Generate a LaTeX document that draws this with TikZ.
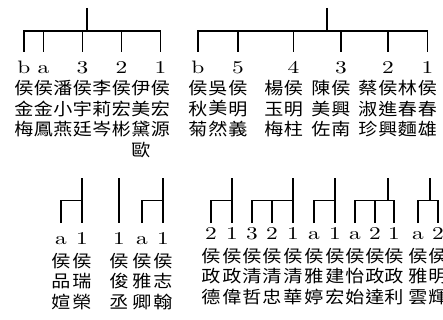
\documentclass[tikz,border=0pt]{standalone}
\usepackage{fontspec}
\newfontfamily\cjk[FakeStretch=1.12]{Noto Sans CJK TC}
\newfontfamily\latn[FakeStretch=1.3]{lmroman10-regular.otf}
\usetikzlibrary{calc}

\begin{document}
\begin{tikzpicture}[x=1pt, y=-1pt,
	kin/.style={line width=1.8pt},
	nm/.style={anchor=north, align=center, inner sep=0pt, font=\cjk\fontsize{17}{20.5}\selectfont},
	lbl/.style={anchor=north, inner sep=0pt, outer ysep=#1, text height=12pt, text depth=0pt, font=\latn\fontsize{18}{18}\selectfont},
	lbl/.default=10pt]
		
		\useasboundingbox (0,0) rectangle (443,320);
		
		% Top left family
		\coordinate (s1) at (87,8);
		\coordinate (j1) at (87,31);
		\node[lbl] (l1b) at (24,52) {b};
		\node[lbl] (l1a) at (43.5,52) {a};
		\node[lbl] (l13) at (82.5,52) {3};
		\node[lbl] (l12) at (121.5,52) {2};
		\node[lbl] (l11) at (160.5,52) {1};
		\node[nm] (n11) at (24,80.5) {侯\\金\\梅};
		\node[nm] (n12) at (43.5,80.5) {侯\\金\\鳳};
		\node[nm] (n13) at (63,80.5) {潘\\小\\燕};
		\node[nm] (n14) at (82.5,80.5) {侯\\宇\\廷};
		\node[nm] (n15) at (102,80.5) {李\\莉\\岑};
		\node[nm] (n16) at (121.5,80.5) {侯\\宏\\彬};
		\node[nm] (n17) at (141,80.5) {伊\\美\\黛\\歐};
		\node[nm] (n18) at (160.5,80.5) {侯\\宏\\源};
		\draw[kin] (s1) -- (j1);
		\draw[kin] (l1b.north) |- (l11.north |- j1) -- (l11.north);
		\draw[kin] (l1a.north) -- (l1a.north |- j1);
		\draw[kin] (l13.north) -- (l13.north |- j1);
		\draw[kin] (l12.north) -- (l12.north |- j1);
		
		% Top right family
		\coordinate (s2) at (327,8);
		\coordinate (j2) at (327,31);
		\node[lbl] (l2b) at (198,52) {b};
		\node[lbl] (l25) at (238,52) {5};
		\node[lbl] (l24) at (293.5,52) {4};
		\node[lbl] (l23) at (341,52) {3};
		\node[lbl] (l22) at (388,52) {2};
		\node[lbl] (l21) at (427.5,52) {1};
		\node[nm] (n21) at (198,80.5) {侯\\秋\\菊};
		\node[nm] (n22) at (218,80.5) {吳\\美\\然};
		\node[nm] (n23) at (238,80.5) {侯\\明\\義};
		\node[nm] (n24) at (274,80.5) {楊\\玉\\梅};
		\node[nm] (n25) at (293.5,80.5) {侯\\明\\柱};
		\node[nm] (n26) at (321,80.5) {陳\\美\\佐};
		\node[nm] (n27) at (341,80.5) {侯\\興\\南};
		\node[nm] (n28) at (368,80.5) {蔡\\淑\\珍};
		\node[nm] (n29) at (388,80.5) {侯\\進\\興};
		\node[nm] (n2a) at (407.5,80.5) {林\\春\\麵};
		\node[nm] (n2b) at (427.5,80.5) {侯\\春\\雄};
		\draw[kin] (s2) -- (j2);
		\draw[kin] (l2b.north) |- (l21.north |- j2) -- (l21.north);
		\draw[kin] (l25.north) -- (l25.north |- j2);
		\draw[kin] (l24.north) -- (l24.north |- j2);
		\draw[kin] (l23.north) -- (l23.north |- j2);
		\draw[kin] (l22.north) -- (l22.north |- j2);
		
		% Bottom left
		\coordinate (s3) at (82,178);
		\coordinate (j3) at (82,200.5);
		\node[lbl=9pt] (l3a) at (61,223) {a};
		\node[lbl=9pt] (l31) at (82,223) {1};
		\node[nm] (n31) at (61,253) {侯\\品\\媗};
		\node[nm] (n32) at (82,253) {侯\\瑞\\榮};
		\draw[kin] (s3) -- (j3);
		\draw[kin] (l3a.north) |- (l31.north |- j3) -- (l31.north);
		
		\coordinate (s4) at (119,178);
		\node[lbl=9pt] (l41) at (119,223) {1};
		\node[nm] (n41) at (119,253) {侯\\俊\\丞};
		\draw[kin] (s4) -- (l41.north);
		
		\coordinate (s5) at (163,178);
		\coordinate (j5) at (163,200.5);
		\node[lbl=9pt] (l5a) at (142,223) {a};
		\node[lbl=9pt] (l51) at (163,223) {1};
		\node[nm] (n51) at (142,253) {侯\\雅\\卿};
		\node[nm] (n52) at (163,253) {侯\\志\\翰};
		\draw[kin] (s5) -- (j5);
		\draw[kin] (l5a.north) |- (l51.north |- j5) -- (l51.north);
		
		% Bottom right
		\coordinate (s6) at (232,178);
		\coordinate (j6) at (232,200.5);
		\node[lbl=4pt] (l62) at (211,223) {2};
		\node[lbl=4pt] (l61) at (232,223) {1};
		\node[nm] (n61) at (211,248) {侯\\政\\德};
		\node[nm] (n62) at (232,248) {侯\\政\\偉};
		\draw[kin] (s6) -- (j6);
		\draw[kin] (l62.north) |- (l61.north |- j6) -- (l61.north);
		
		\coordinate (s7) at (293,178);
		\coordinate (j7) at (293,200.5);
		\node[lbl=4pt] (l73) at (252,223) {3};
		\node[lbl=4pt] (l72) at (272,223) {2};
		\node[lbl=4pt] (l71) at (293,223) {1};
		\node[nm] (n71) at (252,248) {侯\\清\\哲};
		\node[nm] (n72) at (272,248) {侯\\清\\忠};
		\node[nm] (n73) at (293,248) {侯\\清\\華};
		\draw[kin] (s7) -- (j7);
		\draw[kin] (l73.north) |- (l71.north |- j7) -- (l71.north);
		\draw[kin] (l72.north) -- (l72.north |- j7);
		
		\coordinate (s8) at (335,178);
		\coordinate (j8) at (335,200.5);
		\node[lbl=4pt] (l8a) at (314,223) {a};
		\node[lbl=4pt] (l81) at (335,223) {1};
		\node[nm] (n81) at (314,248) {侯\\雅\\婷};
		\node[nm] (n82) at (335,248) {侯\\建\\宏};
		\draw[kin] (s8) -- (j8);
		\draw[kin] (l8a.north) |- (l81.north |- j8) -- (l81.north);
		
		\coordinate (s9) at (388,178);
		\coordinate (j9) at (388,200.5);
		\node[lbl=4pt] (l9a) at (355,223) {a};
		\node[lbl=4pt] (l92) at (375,223) {2};
		\node[lbl=4pt] (l91) at (394,223) {1};
		\node[nm] (n91) at (355,248) {侯\\怡\\始};
		\node[nm] (n92) at (375,248) {侯\\政\\達};
		\node[nm] (n93) at (394,248) {侯\\政\\利};
		\draw[kin] (s9) -- (j9);
		\draw[kin] (l9a.north) |- (l91.north |- j9) -- (l91.north);
		\draw[kin] (l92.north) -- (l92.north |- j9);
		
		\coordinate (s10) at (430,178);
		\coordinate (j10) at (430,200.5);
		\node[lbl=4pt] (l10a) at (418,223) {a};
		\node[lbl=4pt] (l102) at (438,223) {2};
		\node[nm] (n101) at (418,248) {侯\\雅\\雲};
		\node[nm] (n102) at (438,248) {侯\\明\\輝};
		\draw[kin] (s10) -- (j10);
		\draw[kin] (l10a.north) |- (l102.north |- j10) -- (l102.north);
		
	\end{tikzpicture}
\end{document}
